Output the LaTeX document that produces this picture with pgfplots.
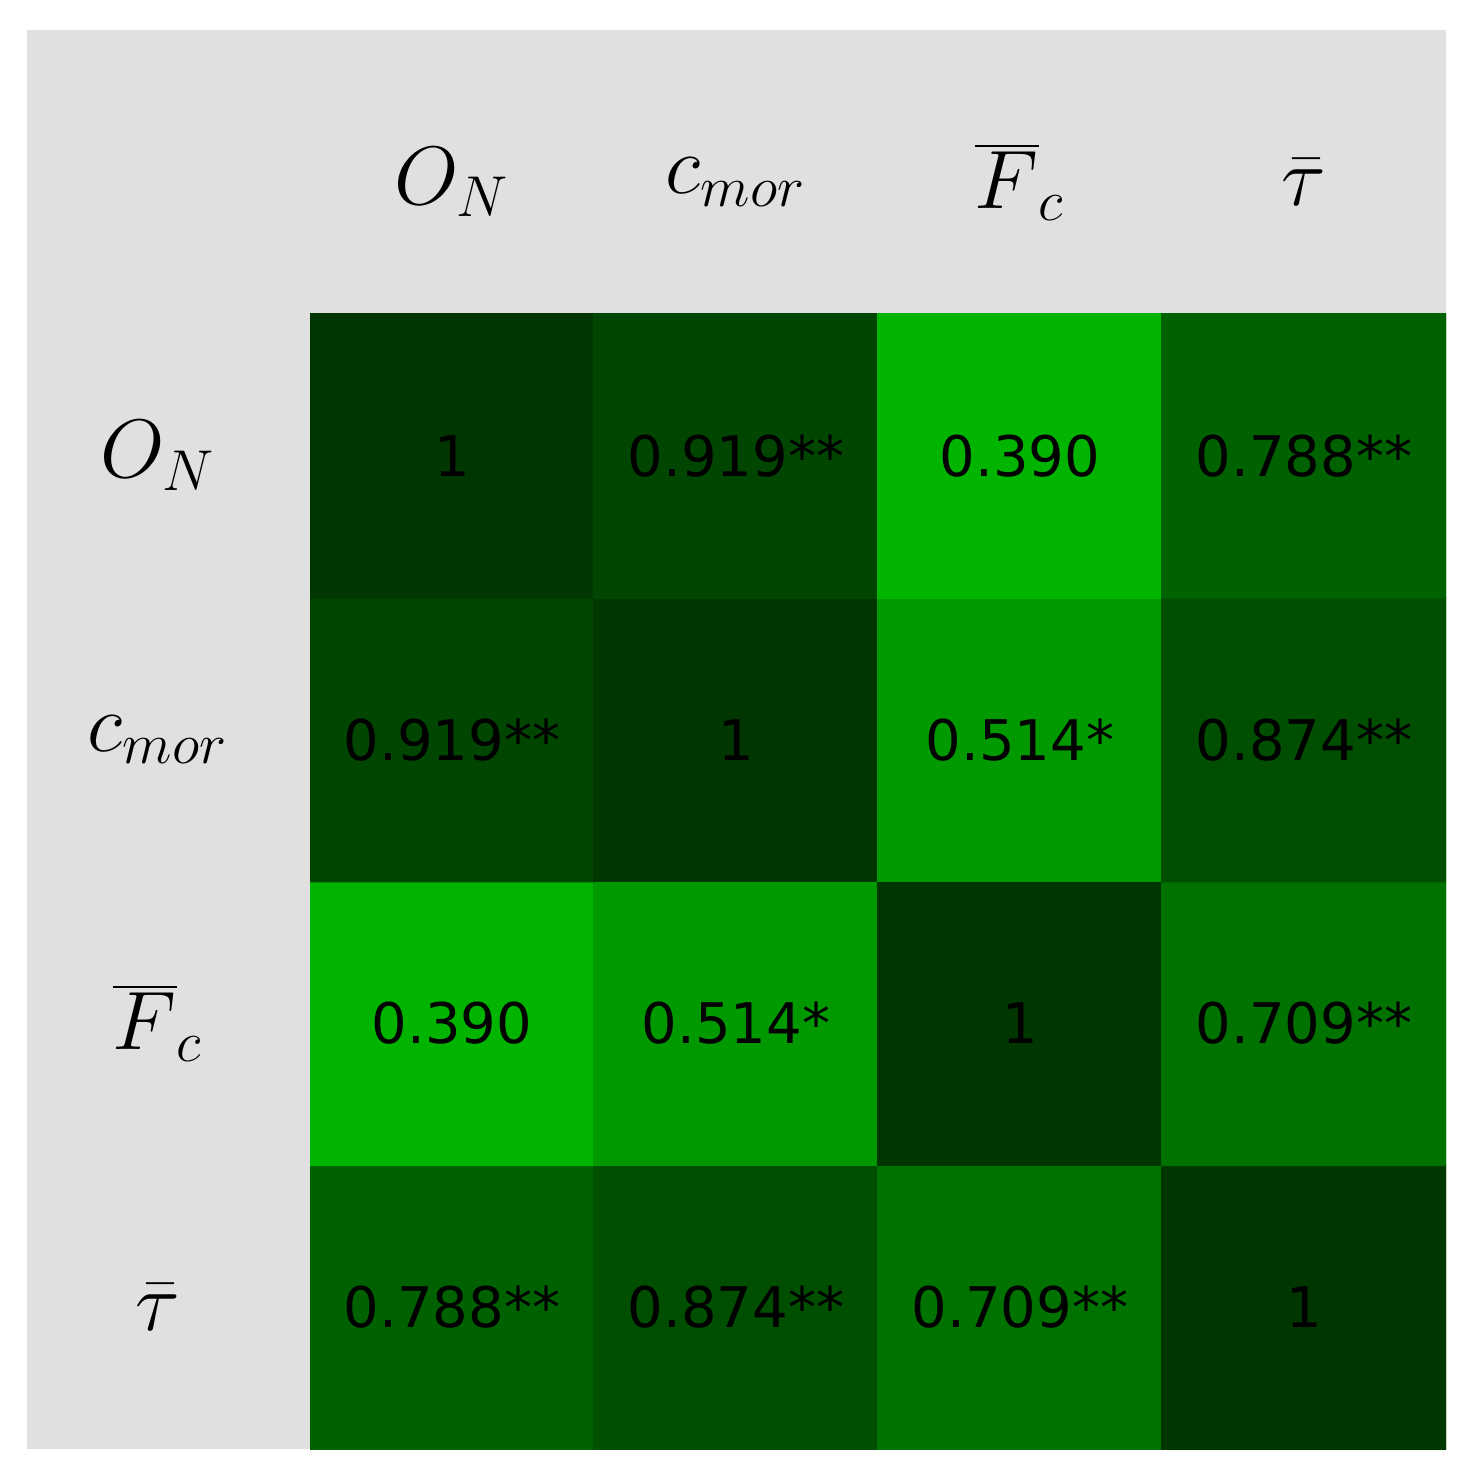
\documentclass[border=0pt]{standalone}
\usepackage{pgfplots}
\pgfplotsset{compat=1.18}
\usepackage{pgfplotstable}
\usepackage{fontspec}
\newfontfamily\numfont{DejaVu Sans}
\definecolor{bg}{RGB}{224,224,224}

% y = 0 is the bottom row (tau), y = 3 the top row (O_N)
\pgfplotstableread{
x y v lab
0 0 0.788 0.788**
1 0 0.874 0.874**
2 0 0.709 0.709**
3 0 1 1
0 1 0.390 0.390
1 1 0.514 0.514*
2 1 1 1
3 1 0.709 0.709**
0 2 0.919 0.919**
1 2 1 1
2 2 0.514 0.514*
3 2 0.874 0.874**
0 3 1 1
1 3 0.919 0.919**
2 3 0.390 0.390
3 3 0.788 0.788**
}\corr

\begin{document}
\begin{tikzpicture}
\fill[white] (-77.5pt,-8.5pt) rectangle (292.5pt,362.25pt);
\fill[bg] (-70.75pt,0pt) rectangle (284pt,354.75pt);
\begin{axis}[scale only axis,width=284pt,height=283.75pt,
  xmin=-0.5,xmax=3.5,ymin=-0.5,ymax=3.5,
  axis line style={draw=none},tick style={draw=none},
  xtick={0,1,2,3},ytick={0,1,2,3},
  xticklabels={$O_N$,$c_{mor}$,$\overline{F}_c$,$\bar{\tau}$},
  yticklabels={$\bar{\tau}$,$\overline{F}_c$,$c_{mor}$,$O_N$},
  xticklabel pos=upper,
  ticklabel style={font=\fontsize{21}{25}\selectfont},
  xticklabel style={anchor=center,yshift=33pt},
  yticklabel style={anchor=center,xshift=-38pt},
  colormap={gr}{rgb255=(0,180,0) rgb255=(0,54,0)},
  point meta min=0.39,point meta max=1]
\addplot[matrix plot*,mesh/cols=4,point meta=explicit,shader=flat corner]
  table[x=x,y=y,meta=v]{\corr};
\addplot[only marks,mark=none,nodes near coords,point meta=explicit symbolic,
  nodes near coords style={anchor=center,text=black,
    font=\numfont\fontsize{14}{17}\selectfont}]
  table[x=x,y=y,meta=lab]{\corr};
\end{axis}
\end{tikzpicture}
\end{document}
